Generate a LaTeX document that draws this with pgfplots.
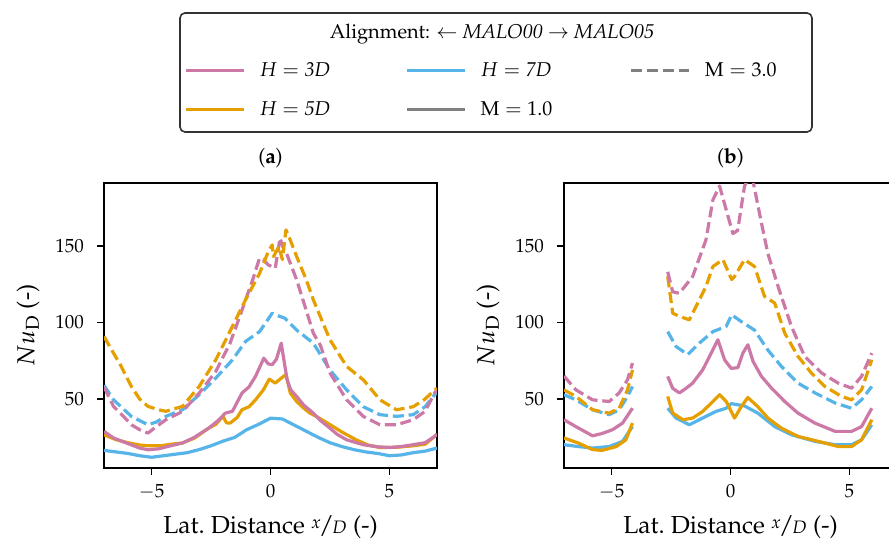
\documentclass[border=0pt]{standalone}
\usepackage[T1]{fontenc}
\usepackage{mathpazo}
\usepackage{pgfplots}
\pgfplotsset{compat=1.18}

\definecolor{cpink}{HTML}{CC79A7}
\definecolor{corange}{HTML}{E69F00}
\definecolor{cblue}{HTML}{56B4E9}
\definecolor{cgray}{HTML}{808080}

\pgfplotsset{
  panel/.style={
    scale only axis, width=166.5pt, height=142.5pt,
    xmin=-7, xmax=7, ymin=5, ymax=191,
    xtick={-5,0,5}, ytick={50,100,150},
    tick align=outside, tick pos=left, major tick length=3.5pt,
    axis line style={line width=0.9pt},
    tick style={line width=0.8pt, black},
    ticklabel style={font=\fontsize{9.5}{11}\selectfont},
    yticklabel style={xshift=-3pt},
    xticklabel style={yshift=-1pt},
    xlabel={Lat.\ Distance \raisebox{0.45ex}{\small$x$}\kern-0.08em/\kern-0.08em{\small$D$} (-)},
    ylabel={$Nu_{\mathrm{D}}$ (-)},
    label style={font=\fontsize{12.3}{14}\selectfont},
    x label style={at={(axis description cs:0.5,-0.207)}, anchor=center},
    y label style={at={(axis description cs:-0.228,0.5)}, anchor=center},
    every axis title shift=0pt,
    title style={font=\fontsize{10.5}{12}\selectfont, at={(axis description cs:0.5,1.088)}, anchor=center, yshift=0pt},
    every axis plot/.append style={line width=1.6pt, line join=round},
    unbounded coords=jump,
  },
  m3/.style={dash pattern=on 5.5pt off 2.4pt},
}

\begin{document}
\begin{tikzpicture}
\useasboundingbox (0,0) rectangle (444.5pt,270pt);

% ---------------- (a) ----------------
\begin{axis}[panel, at={(52pt,36pt)}, anchor=south west,
  title={(\textbf{a})},
  legend columns=3,
  legend cell align=left,
  legend image code/.code={\draw[#1] (0pt,0pt) -- (29pt,0pt);},
  legend style={at={(axis description cs:0.24,1.425)}, anchor=north west,
    draw=none, fill=none, inner sep=0pt, row sep=11pt,
    font=\fontsize{10}{12}\selectfont,
    nodes={inner sep=0pt},
    /tikz/every odd column/.append style={column sep=7pt},
    /tikz/every even column/.append style={column sep=0pt}},
]
\addlegendimage{cpink, line width=1.6pt}
\addlegendentry{\makebox[73pt][l]{$H = \mathit{3D}$}}
\addlegendimage{cblue, line width=1.6pt}
\addlegendentry{\makebox[74.5pt][l]{$H = \mathit{7D}$}}
\addlegendimage{cgray, line width=1.6pt, m3}
\addlegendentry{$\mathrm{M} = 3.0$}
\addlegendimage{corange, line width=1.6pt}
\addlegendentry{\makebox[73pt][l]{$H = \mathit{5D}$}}
\addlegendimage{cgray, line width=1.6pt}
\addlegendentry{\makebox[74.5pt][l]{$\mathrm{M} = 1.0$}}

% H=7D, M=1.0
\addplot[cblue, forget plot] table {
x y
-7 16.5
-6.5 15.5
-6 14.5
-5.5 13
-5 12
-4.5 13
-4 14
-3.5 15
-3 17
-2.5 19.5
-2 22.5
-1.5 25
-1 30
-0.5 33.5
0 37.5
0.5 37
1 33
1.5 29
2 25
2.5 21.5
3 19
3.5 17
4 15.5
4.5 14.5
5 13
5.5 13.5
6 15
6.5 16
7 18
};
% H=5D, M=1.0
\addplot[corange, forget plot] table {
x y
-7 26.7
-6.5 23.5
-6 21.5
-5.5 20
-5.15 19.5
-4.6 19.5
-4.2 20.5
-3.7 21.3
-3.2 24.5
-2.6 31
-2.3 33.5
-2.0 38.7
-1.85 34.5
-1.7 34.3
-1.4 38
-1.2 43
-0.9 45
-0.63 49.5
-0.45 53
-0.3 56
-0.05 63
0.2 60.4
0.4 63
0.65 66
0.83 54
1.1 48.4
1.4 44
1.66 40.8
2.0 38
2.5 33.3
3.0 28.5
3.6 23.4
4.1 20
4.6 18.4
5.3 18.5
6.0 19.5
6.5 20.5
6.9 25.6
7.0 27
};
% H=3D, M=1.0
\addplot[cpink, forget plot] table {
x y
-7 28.9
-6.6 24.6
-6.0 21
-5.5 18
-5.15 16.9
-4.7 17.5
-4.2 19.5
-3.7 21.3
-3.2 25
-2.6 31
-2.2 36
-1.9 40.8
-1.6 42
-1.2 53.9
-0.9 58
-0.63 64.8
-0.28 76.7
-0.1 73
0.07 72.4
0.25 76
0.45 86.5
0.6 72
0.7 62.6
0.85 56
1.1 51.7
1.4 46
1.8 40.8
2.1 36
2.5 31
2.8 27
3.2 23.4
3.9 20.2
4.5 18.8
5.05 18.4
5.5 19
6 20.2
6.5 21.5
6.9 25.6
7.0 27
};
% H=7D, M=3.0
\addplot[cblue, m3, forget plot] table {
x y
-7 59
-6.6 49.5
-5.85 38.7
-5.15 33.2
-4.8 35
-4.4 38.7
-3.7 43
-3.0 52.8
-2.3 63.7
-1.6 75.6
-1.05 87.6
-0.46 94
0.07 106
0.2 105
0.6 102.8
1.1 95
1.8 86.5
2.5 69
3.2 56
3.9 45
4.6 39.8
5.3 38.7
6.0 39.8
6.5 45
6.9 52.8
7 54
};
% H=3D, M=3.0
\addplot[cpink, m3, forget plot] table {
x y
-7 58
-6.6 45.2
-6.2 39
-5.85 33.2
-5.5 30
-5.15 27.8
-4.8 32
-4.4 36.5
-3.7 41.9
-3.0 53.9
-2.3 68
-1.7 86.5
-1.5 95
-1.2 108
-0.75 127.8
-0.46 142
-0.3 141
-0.1 137.6
0.2 135.4
0.4 155
0.55 148
0.7 144
1.1 127.8
1.5 108
1.8 93
2.1 85
2.5 67
3.2 49.5
3.9 38.7
4.6 33.2
5.3 33.2
6.0 36.5
6.5 42
6.9 54
7 56
};
% H=5D, M=3.0
\addplot[corange, m3, forget plot] table {
x y
-7 90.8
-6.6 80
-6.3 72
-5.85 58.2
-5.5 50
-5.15 45.2
-4.7 43
-4.4 42
-3.7 45.2
-3.0 58.2
-2.3 75.6
-1.6 97.4
-1.05 114.8
-0.46 132
-0.1 146
0.07 150.6
0.13 143
0.35 149.5
0.5 141
0.65 160.4
0.8 155
1.1 143
1.5 128
1.8 114.8
2.5 88.7
3.2 71.3
3.9 62.6
4.6 49.5
5.3 43
6.0 45
6.5 50
6.9 56
7 57
};
\end{axis}

% ---------------- (b) ----------------
\begin{axis}[panel, at={(282pt,36pt)}, anchor=south west,
  title={(\textbf{b})},
]
% H=7D, M=1.0
\addplot[cblue] table {
x y
-7 20.2
-6.4 19
-5.8 18
-5.1 19
-4.54 22.4
-4.12 32
-3.5 nan
-2.64 44
-2.29 37.6
-1.73 33.2
-1.17 37.6
-0.6 42
-0.18 44
0.03 47
0.59 45.5
1.15 40.8
1.86 32
2.56 26.7
3.55 22.4
4.4 20.2
5.09 20.2
5.51 23.4
5.94 33.2
};
% H=5D, M=1.0
\addplot[corange] table {
x y
-7 24.6
-6.4 21.3
-5.8 17
-5.4 16.5
-4.8 19
-4.4 23.4
-4.12 34.3
-3.5 nan
-2.64 51.7
-2.43 40.8
-2.0 36.5
-1.59 37.6
-1.17 41.9
-0.74 48.4
-0.46 52.8
-0.18 48.4
0.17 37.6
0.45 45
0.73 51
1.15 45
1.57 37.6
2.14 31
2.84 25.6
3.69 22.4
4.53 19
5.09 19
5.51 23.4
5.94 36.5
};
% H=3D, M=1.0
\addplot[cpink] table {
x y
-7 36.5
-6.5 32
-5.8 26
-5.4 27.5
-4.96 30
-4.54 34.3
-4.12 44
-3.5 nan
-2.64 64.8
-2.43 57
-2.15 54
-1.87 57
-1.59 60.4
-1.17 69
-0.81 80
-0.53 88.7
-0.25 75.6
0.03 70
0.31 70.5
0.52 80
0.73 85.4
0.95 74.5
1.3 64.8
1.72 57.2
2.28 48.4
2.84 40.8
3.55 34.3
4.4 28.9
5.09 28.9
5.51 32
5.94 44
};
% H=7D, M=3.0
\addplot[cblue, m3] table {
x y
-7 52.8
-6.5 49.5
-5.8 43
-5.1 39.8
-4.68 43
-4.33 51.7
-4.12 58.2
-3.5 nan
-2.64 94
-2.29 84.3
-1.8 79
-1.31 86.5
-0.74 94
-0.18 97.4
0.05 105
0.45 100.6
1.01 95
1.57 82
2.14 71.3
2.84 60.4
3.55 54
4.4 47.4
5.09 44
5.51 49.5
5.94 58.2
};
% H=5D, M=3.0
\addplot[corange, m3] table {
x y
-7 56
-6.5 51.7
-5.8 43
-5.1 40.8
-4.68 44
-4.33 56
-4.12 69
-3.5 nan
-2.64 130
-2.43 106
-2.15 104
-1.73 101.7
-1.45 110.4
-1.03 123.5
-0.74 136.5
-0.32 141
0.05 128
0.17 130
0.59 141
1.01 136.5
1.43 117
1.86 112.6
2.28 93
2.84 77.8
3.4 67
3.97 58.2
4.67 51.7
5.09 49.5
5.51 56
5.94 75.6
};
% H=3D, M=3.0
\addplot[cpink, m3] table {
x y
-7 65
-6.5 56
-5.8 49.5
-5.1 48.4
-4.68 54
-4.33 62.6
-4.12 73.5
-3.5 nan
-2.64 133
-2.43 120
-2.15 119
-1.59 130
-1.03 154
-0.74 180
-0.46 189
-0.18 173.5
0.1 158
0.3 160
0.59 189
0.75 194
0.95 192
1.3 165
1.57 145
2.0 123.5
2.56 97.4
3.12 77.8
3.83 67
4.53 60.4
5.09 57.1
5.51 64.8
5.94 80
};
\end{axis}

% legend frame and title
\draw[rounded corners=2.5pt, line width=0.8pt, black!80] (90pt,204pt) rectangle (406pt,263.5pt);
\node[font=\fontsize{10}{12}\selectfont, anchor=center] at (246pt,253pt)
  {Alignment: $\leftarrow$ \textit{MALO00} $\rightarrow$ \textit{MALO05}};
\end{tikzpicture}
\end{document}
